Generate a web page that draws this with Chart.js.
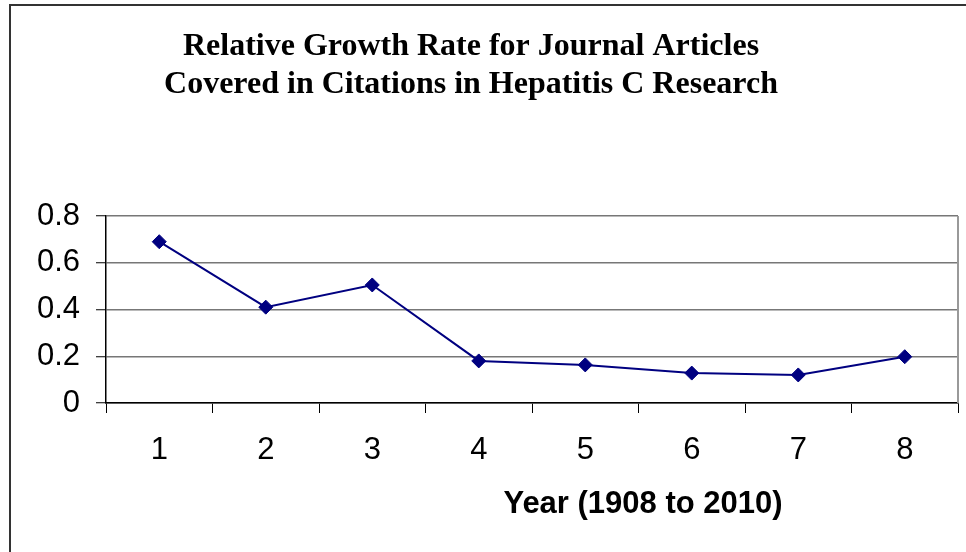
<!DOCTYPE html>
<html>
<head>
<meta charset="utf-8">
<script src="https://cdn.jsdelivr.net/npm/chart.js@4/dist/chart.umd.min.js"></script>
<style>
  html, body { margin: 0; padding: 0; background: #fff; }
  #box { width: 966px; height: 552px; }
</style>
</head>
<body>
<div id="box"><canvas id="myChart" width="966" height="552"></canvas></div>
<script>
const years = ['1', '2', '3', '4', '5', '6', '7', '8'];
const growthRate = [0.69, 0.41, 0.505, 0.18, 0.163, 0.128, 0.12, 0.198];
const titleLines = ['Relative Growth Rate for Journal Articles', 'Covered in Citations in Hepatitis C Research'];
const xTitle = 'Year (1908 to 2010)';

// frame, plot border and the texts that are placed off-centre
const extras = {
    id: 'extras',
    beforeDraw(chart) {
        const ctx = chart.ctx;
        ctx.save();
        ctx.fillStyle = '#fff';
        ctx.fillRect(0, 0, chart.width, chart.height);
        ctx.strokeStyle = '#333';
        ctx.lineWidth = 2;
        ctx.beginPath();
        ctx.moveTo(10, chart.height);
        ctx.lineTo(10, 5);
        ctx.lineTo(chart.width, 5);
        ctx.stroke();
        ctx.restore();
    },
    afterDraw(chart) {
        const ctx = chart.ctx;
        const area = chart.chartArea;
        ctx.save();
        ctx.strokeStyle = '#999';
        ctx.lineWidth = 2;
        ctx.beginPath();
        ctx.moveTo(area.right, area.top);
        ctx.lineTo(area.right, area.bottom);
        ctx.stroke();

        ctx.fillStyle = '#000';
        ctx.textAlign = 'center';
        ctx.textBaseline = 'alphabetic';
        ctx.font = 'bold 32px "Liberation Serif", "Times New Roman", serif';
        ctx.fillText(titleLines[0], 471, 55);
        ctx.fillText(titleLines[1], 471, 93);

        ctx.font = 'bold 31px "Liberation Sans", Arial, sans-serif';
        ctx.fillText(xTitle, 643, 513);
        ctx.restore();
    }
};

const data = {
    labels: years,
    datasets: [
        {
            data: growthRate,
            borderColor: '#000080',
            backgroundColor: '#000080',
            borderWidth: 2,
            pointStyle: 'rectRot',
            pointRadius: 7,
            pointBorderWidth: 1,
            tension: 0
        }
    ]
};

const config = {
    type: 'line',
    data: data,
    plugins: [extras],
    options: {
        responsive: false,
        animation: false,
        layout: {
            padding: { top: 216, right: 7, bottom: 0, left: 0 }
        },
        plugins: {
            legend: { display: false },
            title: { display: false },
            tooltip: { enabled: false }
        },
        scales: {
            x: {
                offset: true,
                afterFit: (scale) => { scale.height = 149; },
                grid: {
                    offset: true,
                    drawOnChartArea: false,
                    drawTicks: true,
                    tickLength: 10,
                    color: '#000',
                    lineWidth: 1
                },
                border: { display: true, color: '#000', width: 1.5 },
                ticks: {
                    color: '#000',
                    padding: 19,
                    maxRotation: 0,
                    font: { family: '"Liberation Sans", Arial, sans-serif', size: 31 }
                }
            },
            y: {
                min: 0,
                max: 0.8,
                afterFit: (scale) => { scale.width = 106; },
                grid: {
                    color: '#777',
                    lineWidth: 1.5,
                    drawTicks: true,
                    tickLength: 10,
                    tickColor: '#000',
                    tickWidth: 1
                },
                border: { display: true, color: '#000', width: 1.5 },
                ticks: {
                    stepSize: 0.2,
                    color: '#000',
                    padding: 16,
                    font: { family: '"Liberation Sans", Arial, sans-serif', size: 31 }
                }
            }
        }
    }
};

const ctx = document.getElementById('myChart').getContext('2d');
const chartItem = Chart.getChart('myChart');
if (chartItem) chartItem.destroy();
const chart = new Chart(ctx, config);
</script>
</body>
</html>
